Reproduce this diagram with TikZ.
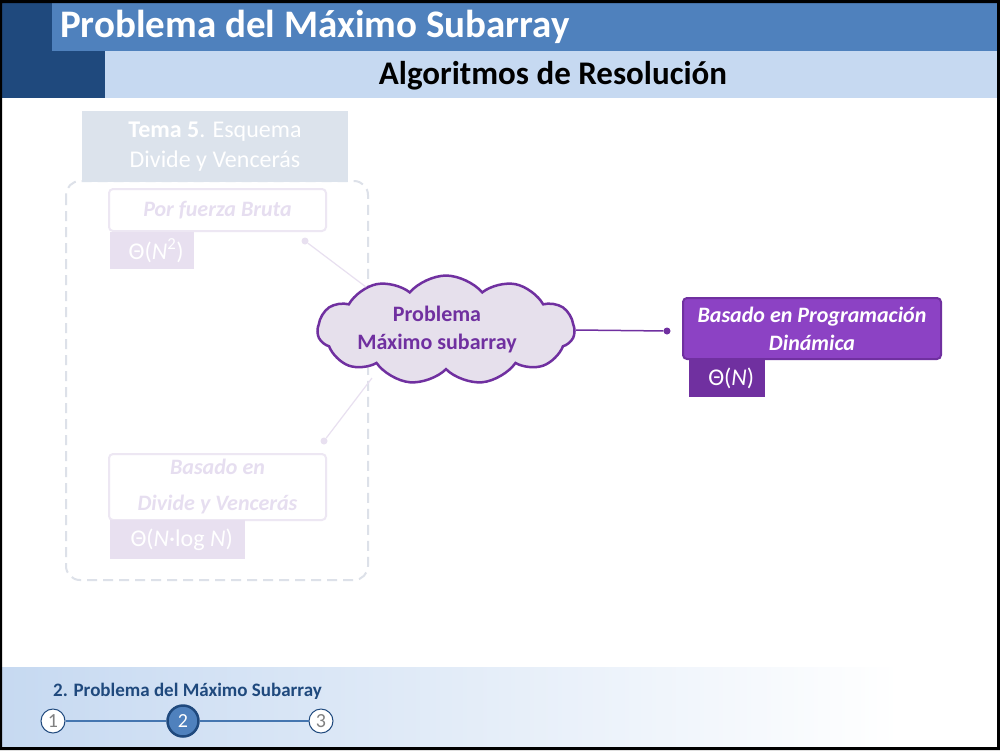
\documentclass[tikz,border=0pt]{standalone}
\usepackage{fontspec}
\setmainfont{Carlito}
\usetikzlibrary{shapes.symbols}
\definecolor{darkblue}{HTML}{1F497D}
\definecolor{midblue}{HTML}{4F81BD}
\definecolor{lightblue}{HTML}{C6D9F1}
\definecolor{temafill}{HTML}{DCE3EC}
\definecolor{dashcol}{HTML}{DDE1E9}
\definecolor{fadetext}{HTML}{E6DEF0}
\definecolor{fadeborder}{HTML}{EDE7F3}
\definecolor{fadefill}{HTML}{E8E0F0}
\definecolor{cloudfill}{HTML}{E6E0EC}
\definecolor{purp}{HTML}{7030A0}
\definecolor{pdfill}{HTML}{8C42C4}
\newcommand{\fs}[2]{\fontsize{#1}{#2}\selectfont}
\tikzset{
  fadedbox/.style={draw=fadeborder, line width=2pt, rounded corners=4pt, fill=white,
    text=fadetext, font=\fs{22}{36}\bfseries\itshape, align=center, inner sep=0pt},
  fadedth/.style={fill=fadefill, text=white, font=\fs{24}{24}, anchor=north west,
    inner sep=0pt, minimum height=37pt},
  fadeline/.style={draw=fadefill, line width=1.2pt},
  dotc/.style={circle, inner sep=0pt, minimum size=7pt},
  stepcirc/.style={circle, inner sep=0pt, font=\fs{20}{20}},
}
\begin{document}
\begin{tikzpicture}[x=1pt,y=-1pt]
\useasboundingbox (0,0) rectangle (1000,750);
\fill[white] (0,0) rectangle (1000,750);
% header
\fill[midblue] (52,3) rectangle (997,51);
\fill[lightblue] (105,51) rectangle (997,98);
\fill[darkblue] (2,3) rectangle (52,98);
\fill[darkblue] (52,51) rectangle (105,98);
\node[anchor=west, text=white, font=\fs{39}{39}\bfseries, inner sep=0pt] (title) at (60,27) {Problema del Máximo Subarray};
\node[text=black, font=\fs{33}{33}\bfseries, inner sep=0pt] (sub) at (553,76) {Algoritmos de Resolución};
% faded group
\draw[dashcol, line width=2pt, dash pattern=on 10pt off 6pt, rounded corners=14pt] (66,181) rectangle (368,580);
\node[fill=temafill, text=white, minimum width=266pt, minimum height=71pt, inner sep=0pt,
  font=\fs{24}{30}, align=center] (tema) at (215,146.5) {\textbf{Tema 5}. Esquema\\Divide y Vencerás};
\node[fadedbox, minimum width=217pt, minimum height=42pt] (fb) at (217.5,210) {Por fuerza Bruta};
\node[fadedth, minimum width=84pt] (fbth) at (110,232) {\hspace*{8pt}Θ(\textit{N}\textsuperscript{2})\hfill};
\node[fadedbox, minimum width=217pt, minimum height=66pt] (dv) at (217.5,487) {Basado en\\Divide y Vencerás};
\node[fadedth, minimum width=135pt, minimum height=39pt] (dvth) at (110,520) {\hspace*{8pt}Θ(\textit{N}·log \textit{N})\hfill};
% cloud
\node[cloud, cloud puffs=11, cloud puff arc=100, cloud ignores aspect, draw=purp, fill=cloudfill,
  line width=2.5pt, minimum width=257pt, minimum height=92pt, inner sep=0pt,
  text=purp, font=\fs{22}{28}\bfseries] (cloud) at (446,330)
  {\begin{tabular}{@{}c@{\hspace{18pt}}}Problema\\Máximo subarray\end{tabular}};
\node[dotc, fill=fadefill] (d1) at (305,241) {};
\node[dotc, fill=fadefill] (d2) at (324,441) {};
\draw[fadeline] (d1) -- (366,287);
\draw[fadeline] (d2) -- (372,378);
% right box
\node[draw=purp, line width=2pt, fill=pdfill, rounded corners=4pt, minimum width=258pt,
  minimum height=61pt, inner sep=0pt, text=white, font=\fs{22}{28}\bfseries\itshape, align=center]
  (pd) at (812,328.5) {Basado en Programación\\Dinámica};
\node[fill=purp, text=white, font=\fs{24}{24}, anchor=north west, inner sep=0pt,
  minimum width=76pt, minimum height=38pt] (pdth) at (689,359) {\hspace*{8pt}Θ(\textit{N})\hfill};
\node[dotc, fill=purp] (d3) at (667,331) {};
\draw[purp, line width=1.5pt] (cloud.east) -- (d3);
% footer
\shade[left color=lightblue, right color=white] (2,667) rectangle (900,747);
\node[anchor=west, text=darkblue, font=\fs{19}{19}\bfseries, inner sep=0pt] (foot) at (53,691) {2. Problema del Máximo Subarray};
\node[stepcirc, draw=darkblue, line width=1pt, fill=white, text=gray, minimum size=24pt] (c1) at (53,721) {1};
\node[stepcirc, draw=darkblue, line width=2.5pt, fill=midblue, text=white, minimum size=31pt] (c2) at (183,721) {2};
\node[stepcirc, draw=darkblue, line width=1pt, fill=white, text=gray, minimum size=24pt] (c3) at (321,721) {3};
\draw[midblue!80!darkblue, line width=1.2pt] (c1) -- (c2);
\draw[midblue!80!darkblue, line width=1.2pt] (c2) -- (c3);
% frame
\fill[black, even odd rule] (0,0) rectangle (1000,750) (2,3) rectangle (997,747);
\end{tikzpicture}
\end{document}
